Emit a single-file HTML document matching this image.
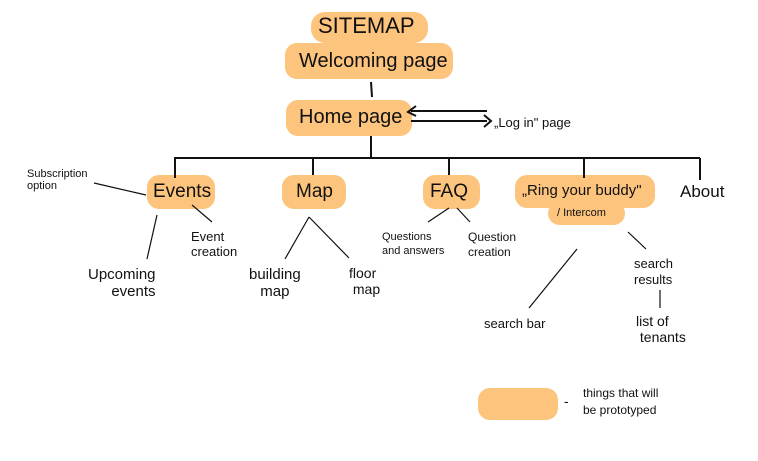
<!DOCTYPE html>
<html><head><style>
body{margin:0;width:758px;height:461px;background:#fff;overflow:hidden;position:relative;font-family:"Liberation Sans",sans-serif;color:#111}
.b{position:absolute;background:#fdc47e;border-radius:12px}
.t{position:absolute;white-space:nowrap;line-height:1}
svg{position:absolute;left:0;top:0}
</style></head><body>
<div class="b" style="left:311px;top:12px;width:117px;height:31px;border-radius:14px"></div>
<div class="b" style="left:285px;top:43px;width:168px;height:36px"></div>
<div class="b" style="left:286px;top:100px;width:126px;height:36px"></div>
<div class="b" style="left:147px;top:175px;width:68px;height:34px"></div>
<div class="b" style="left:282px;top:175px;width:64px;height:34px"></div>
<div class="b" style="left:423px;top:175px;width:57px;height:34px"></div>
<div class="b" style="left:515px;top:175px;width:140px;height:33px"></div>
<div class="b" style="left:548px;top:202px;width:77px;height:23px"></div>
<div class="b" style="left:478px;top:388px;width:80px;height:32px"></div>
<svg width="758" height="461" stroke="#111" fill="none" stroke-width="2">
<line x1="371" y1="82" x2="372" y2="97"/>
<line x1="371" y1="136" x2="371" y2="158"/>
<line x1="174" y1="158" x2="700" y2="158"/>
<line x1="175" y1="158" x2="175" y2="178"/>
<line x1="313" y1="158" x2="313" y2="175"/>
<line x1="449" y1="158" x2="449" y2="175"/>
<line x1="584" y1="158" x2="584" y2="178"/>
<line x1="700" y1="158" x2="700" y2="180"/>
<line x1="411" y1="111" x2="487" y2="111"/>
<line x1="411" y1="121" x2="487" y2="121"/>
<polyline points="416,106 408,112 416,116"/>
<polyline points="484,115 491,121 484,127"/>
<g stroke-width="1.2">
<line x1="94" y1="183" x2="146" y2="195"/>
<line x1="157" y1="215" x2="147" y2="259"/>
<line x1="192" y1="205" x2="212" y2="222"/>
<line x1="309" y1="217" x2="285" y2="259"/>
<line x1="309" y1="217" x2="349" y2="258"/>
<line x1="449" y1="208" x2="428" y2="222"/>
<line x1="457" y1="208" x2="470" y2="222"/>
<line x1="577" y1="249" x2="529" y2="308"/>
<line x1="628" y1="232" x2="646" y2="249"/>
<line x1="660" y1="290" x2="660" y2="308"/>
</g>
</svg>
<div class="t" style="left:318px;top:15px;font-size:22px">SITEMAP</div>
<div class="t" style="left:299px;top:51px;font-size:20px">Welcoming page</div>
<div class="t" style="left:299px;top:107px;font-size:20px">Home page</div>
<div class="t" style="left:494px;top:116px;font-size:13px">„Log in" page</div>
<div class="t" style="left:27px;top:168px;font-size:11px;line-height:12px">Subscription<br>option</div>
<div class="t" style="left:153px;top:182px;font-size:19px">Events</div>
<div class="t" style="left:296px;top:182px;font-size:19px">Map</div>
<div class="t" style="left:430px;top:182px;font-size:19px">FAQ</div>
<div class="t" style="left:522px;top:183px;font-size:15px">„Ring your buddy"</div>
<div class="t" style="left:557px;top:208px;font-size:11px">/ Intercom</div>
<div class="t" style="left:680px;top:183px;font-size:17px">About</div>
<div class="t" style="left:191px;top:229px;font-size:13px;line-height:15px">Event<br>creation</div>
<div class="t" style="left:88px;top:266px;font-size:15px;line-height:17px;text-align:right">Upcoming<br>events</div>
<div class="t" style="left:249px;top:266px;font-size:15px;line-height:17px;text-align:center">building<br>map</div>
<div class="t" style="left:349px;top:265px;font-size:14px;line-height:16px">floor<br>&nbsp;map</div>
<div class="t" style="left:382px;top:230px;font-size:11px;line-height:14px">Questions<br>and answers</div>
<div class="t" style="left:468px;top:230px;font-size:12px;line-height:15px">Question<br>creation</div>
<div class="t" style="left:634px;top:256px;font-size:13px;line-height:16px">search<br>results</div>
<div class="t" style="left:484px;top:317px;font-size:13px">search bar</div>
<div class="t" style="left:636px;top:313px;font-size:14px;line-height:16px">list of<br>&nbsp;tenants</div>
<div class="t" style="left:564px;top:394px;font-size:14px">-</div>
<div class="t" style="left:583px;top:385px;font-size:12px;line-height:17px">things that will<br>be prototyped</div>
</body></html>
